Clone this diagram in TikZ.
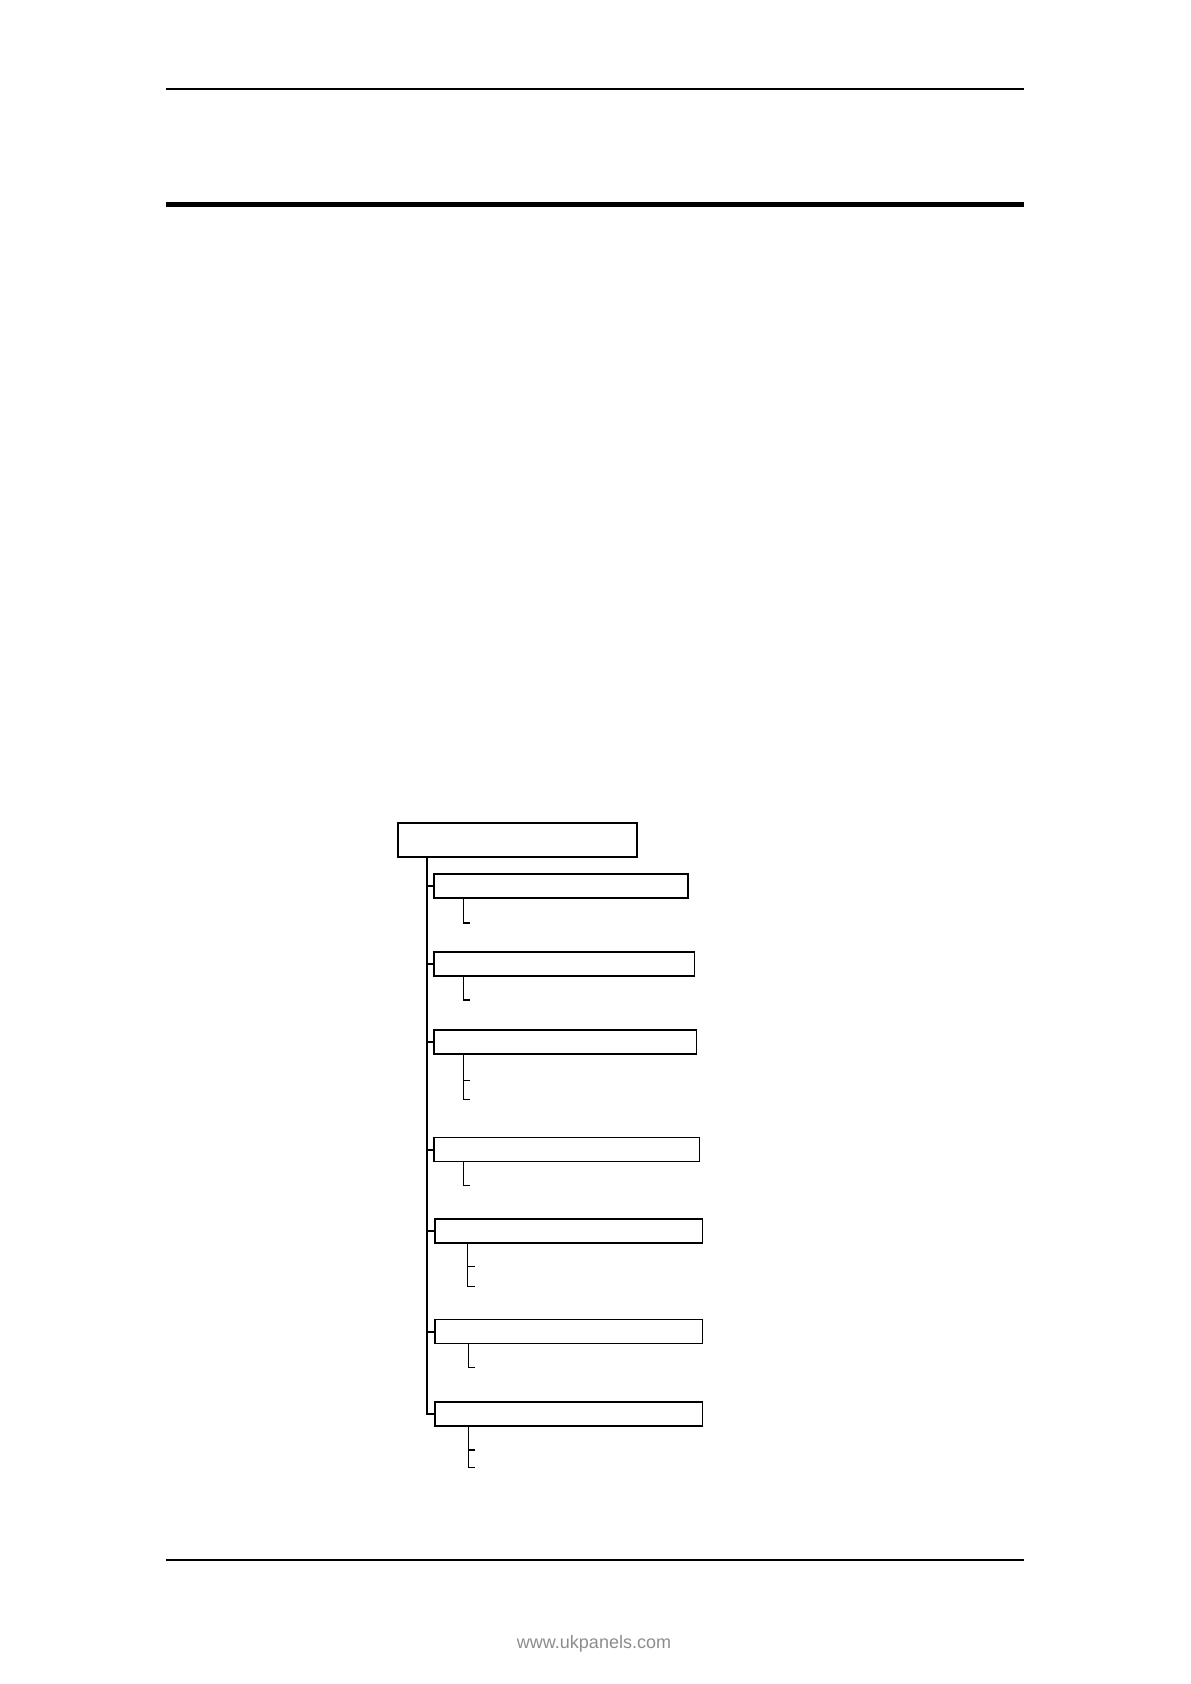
\documentclass[tikz,border=0pt]{standalone}
\usepackage{fontspec}
\usepackage{tikz}
\newfontfamily\sitefont{Liberation Sans}
\tikzstyle{menubox} = [draw,line width=0.6pt,rectangle,anchor=north west,inner sep=0pt,minimum height=12pt]
\tikzstyle{trunk} = [line width=1pt]
\tikzstyle{leaf} = [line width=0.7pt]

\begin{document}
\begin{tikzpicture}[x=0.5pt,y=-0.5pt]
	\useasboundingbox (0,0) rectangle (1190,1684);
	\draw[line width=0.6pt] (166,89) -- (1024,89);
	\draw[line width=2.5pt] (166,204.5) -- (1024,204.5);
	\draw[line width=0.6pt] (166,1560) -- (1024,1560);
	\node[text=black!45,font=\sitefont\fontsize{9}{11}\selectfont] (site) at (594,1644) {www.ukpanels.com};
	% menu tree
	\node[menubox,minimum width=119.5pt,minimum height=17pt] (root) at (397.3,822.3) {};
	\node[menubox,minimum width=127pt] (b1) at (433.3,873.3) {};
	\node[menubox,minimum width=130.2pt] (b2) at (433.3,951.3) {};
	\node[menubox,minimum width=131.2pt] (b3) at (433.3,1029.3) {};
	\node[menubox,minimum width=132.7pt] (b4) at (433.3,1137) {};
	\node[menubox,minimum width=133.7pt] (b5) at (434.3,1218.3) {};
	\node[menubox,minimum width=133.7pt] (b6) at (434.3,1319) {};
	\node[menubox,minimum width=133.7pt] (b7) at (434.3,1401.3) {};
	\coordinate (top) at (427,856);
	\draw[trunk] (top) |- (b7.west);
	\foreach \b in {b1,b2,b3,b4,b5,b6}
		\draw[trunk] (\b.west -| top) -- (\b.west);
	% leaves
	\coordinate (l1) at (470,923);
	\coordinate (l2) at (470,1000);
	\coordinate (l3a) at (470,1080.7);
	\coordinate (l3b) at (470,1099.3);
	\coordinate (l4) at (470,1185.7);
	\coordinate (l5a) at (475,1266.7);
	\coordinate (l5b) at (475,1286.7);
	\coordinate (l6) at (475,1367.7);
	\coordinate (l7a) at (475,1450);
	\coordinate (l7b) at (475,1467.7);
	\draw[leaf] ([xshift=15pt]b1.south west) |- (l1);
	\draw[leaf] ([xshift=15pt]b2.south west) |- (l2);
	\draw[leaf] ([xshift=15.2pt]b3.south west) |- (l3b) (l3a) -- ++(-6.3,0);
	\draw[leaf] ([xshift=15.2pt]b4.south west) |- (l4);
	\draw[leaf] ([xshift=16.7pt]b5.south west) |- (l5b) (l5a) -- ++(-7.3,0);
	\draw[leaf] ([xshift=17pt]b6.south west) |- (l6);
	\draw[leaf] ([xshift=17.2pt]b7.south west) |- (l7b) (l7a) -- ++(-6.3,0);
\end{tikzpicture}
\end{document}
